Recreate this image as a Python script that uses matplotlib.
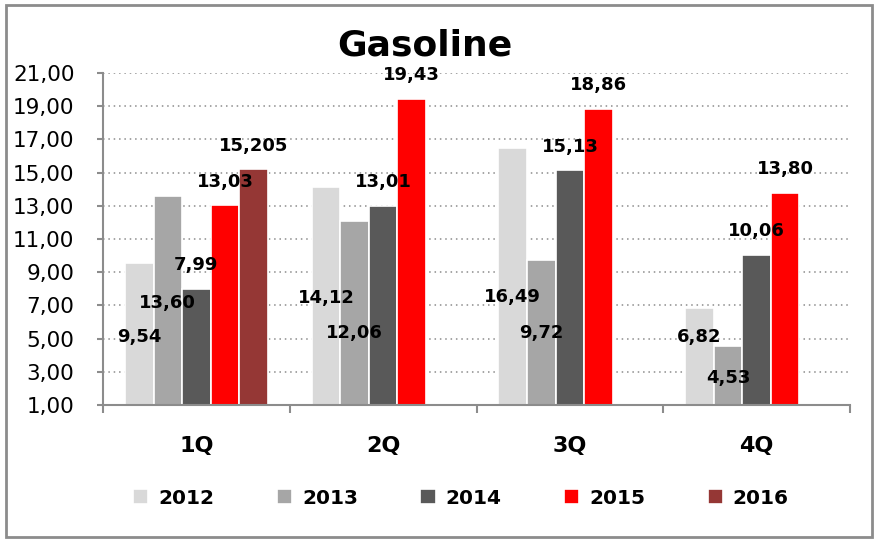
import numpy as np
import matplotlib
matplotlib.use('Agg')
import matplotlib.pyplot as plt
from matplotlib.patches import Rectangle

# datos
trimestres = ['1Q', '2Q', '3Q', '4Q']
anios = ['2012', '2013', '2014', '2015', '2016']
v2012 = [9.54, 14.12, 16.49, 6.82]
v2013 = [13.60, 12.06, 9.72, 4.53]
v2014 = [7.99, 13.01, 15.13, 10.06]
v2015 = [13.03, 19.43, 18.86, 13.80]
v2016 = [15.205, np.nan, np.nan, np.nan]
etiq2016 = ['15,205', '', '', '']

# alturas de las etiquetas que no van encima de la barra (2012 y 2013)
alto_etq2012 = [5.11, 7.45, 7.5, 5.11]
alto_etq2013 = [7.14, 5.34, 5.34, 2.6]

colores = ['#D9D9D9', '#A6A6A6', '#595959', '#FF0000', '#953735']
series = [v2012, v2013, v2014, v2015, v2016]

plt.rcParams['font.family'] = ['DejaVu Sans']

fig = plt.figure(figsize=(8.75, 5.42), dpi=100)
ax = fig.add_axes([103/875, 1-405/542, (850-103)/875, (405-73)/542])

x = np.arange(len(trimestres))
ancho = 0.153
barras = []
for i, (vals, col) in enumerate(zip(series, colores)):
    b = ax.bar(x + (i-2)*ancho, vals, ancho, bottom=0, color=col,
               edgecolor='white', linewidth=1.2, label=anios[i], zorder=3)
    barras.append(b)

def fmt(v):
    return f'{v:.2f}'.replace('.', ',')

tam = 13
# etiquetas
for j in range(len(trimestres)):
    ax.text(x[j] - 2*ancho, alto_etq2012[j], fmt(v2012[j]), ha='center', va='center',
            fontsize=tam, fontweight='bold', zorder=5)
    ax.text(x[j] - ancho, alto_etq2013[j], fmt(v2013[j]), ha='center', va='center',
            fontsize=tam, fontweight='bold', zorder=5)
    for i, vals in [(2, v2014), (3, v2015)]:
        ax.annotate(fmt(vals[j]), (x[j] + (i-2)*ancho, vals[j]), xytext=(0, 17),
                    textcoords='offset points', ha='center', va='center',
                    fontsize=tam, fontweight='bold', zorder=5)
    if etiq2016[j]:
        ax.annotate(etiq2016[j], (x[j] + 2*ancho, v2016[j]), xytext=(0, 17),
                    textcoords='offset points', ha='center', va='center',
                    fontsize=tam, fontweight='bold', zorder=5)

ax.set_ylim(1, 21)
ax.set_xlim(-0.5, 3.5)
yt = np.arange(1, 22, 2)
ax.set_yticks(yt)
ax.set_yticklabels([fmt(v) for v in yt], fontsize=15.5)
ax.set_xticks(x)
ax.set_xticklabels(trimestres, fontsize=16, fontweight='bold')
ax.set_xticks(np.arange(-0.5, 4, 1), minor=True)
ax.tick_params(axis='x', which='major', length=0, pad=22)
ax.tick_params(axis='x', which='minor', length=6, color='#8c8c8c', direction='out', width=1.5)
ax.tick_params(axis='y', length=4.5, color='#8c8c8c', width=1.5, pad=16)

ax.grid(axis='y', linestyle=(0, (1, 2.5)), color='#8c8c8c', linewidth=1.1, zorder=0)
for s in ['top', 'right']:
    ax.spines[s].set_visible(False)
for s in ['left', 'bottom']:
    ax.spines[s].set_color('#8c8c8c')
    ax.spines[s].set_linewidth(1.5)
    ax.spines[s].set_zorder(4)

fig.text(425/875, 1-45/542, 'Gasoline', ha='center', va='center',
         fontsize=26, fontweight='bold')

fig.legend(handles=barras, labels=anios, loc='center', bbox_to_anchor=(461/875, 1-498/542),
           ncol=5, frameon=False, prop={'weight': 'bold', 'size': 14.5},
           handlelength=0.75, handleheight=0.75, handletextpad=0.5, columnspacing=3.1)

# borde del grafico
fig.patches.append(Rectangle((6/875, 5/542), 866/875, 532/542, transform=fig.transFigure,
                             fill=False, edgecolor='#8c8c8c', linewidth=2))

fig.savefig('out.png', dpi=100)
